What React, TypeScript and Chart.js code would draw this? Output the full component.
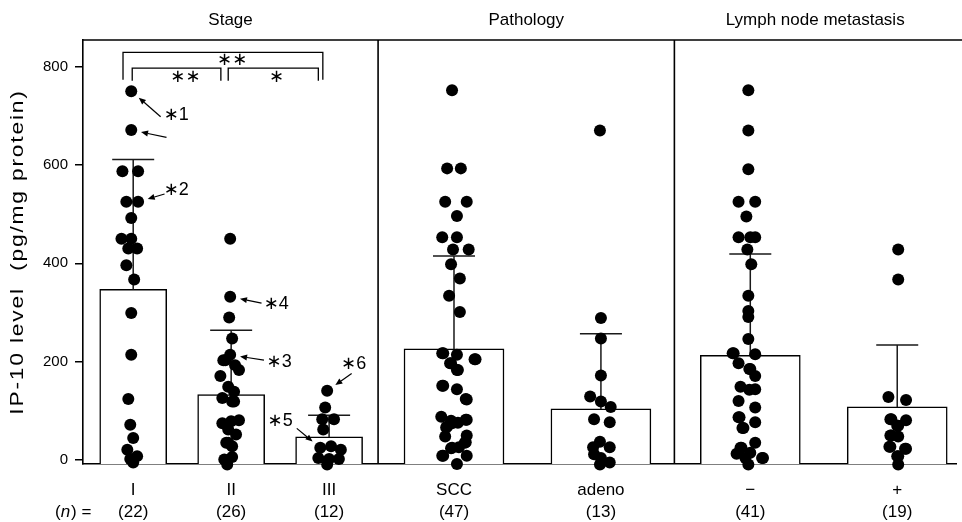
import React, { useEffect, useRef } from "react";
import { Chart, registerables } from "chart.js";

Chart.register(...registerables);

// ---------- data ----------
const categories = ["I", "II", "III", "SCC", "adeno", "\u2212", "+"];
const counts = ["(22)", "(26)", "(12)", "(47)", "(13)", "(41)", "(19)"];
const categoryX = [10, 20, 30, 42.75, 57.75, 73, 88];
const panelTitles = ["Stage", "Pathology", "Lymph node metastasis"];
const panelEdges = [4.875, 35, 65.25, 94];
const means = [347, 133, 47, 226, 104, 213, 108];
const sds = [264, 131, 44, 189, 153, 206, 126];
const yTicks = [0, 200, 400, 600, 800];
const Y_MIN = -8;
const Y_MAX = 854;

const stageIValues = [750, 671, 587, 587, 525, 525, 492, 450, 450, 430, 430, 396, 367, 299, 214, 124, 72, 45, 21, 8, 2, -5];
const stageIJitter = [-0.2, -0.2, -1.1, 0.5, -0.7, 0.5, -0.2, -1.2, -0.2, -0.5, 0.4, -0.7, 0.1, -0.2, -0.2, -0.5, -0.3, 0, -0.6, 0.4, -0.3, 0];

const stageIIValues = [450, 332, 290, 247, 214, 203, 193, 183, 171, 149, 139, 126, 119, 81, 79, 75, 62, 52, 35, 28, 6, 1, -9, 203, 119, 35];
const stageIIJitter = [-0.1, -0.1, -0.2, 0.1, -0.1, -0.8, 0.4, 0.8, -1.1, -0.3, 0.3, -0.9, 0.1, 0.8, 0, -0.9, -0.3, 0.5, -0.5, 0.1, 0.1, -0.7, -0.4, -0.6, 0.3, -0.3];

const stageIIIValues = [141, 107, 83, 83, 62, 25, 28, 21, 4, 2, 2, -9];
const stageIIIJitter = [-0.2, -0.4, -0.7, 0.5, -0.6, -0.9, 0.2, 1.2, -1.1, 0, 1.0, -0.2];

const sccValues = [752, 593, 593, 525, 525, 496, 453, 453, 428, 428, 398, 369, 334, 301, 217, 214, 205, 197, 183, 151, 144, 123, 88, 80, 82, 76, 66, 48, 50, 36, 24, 26, 9, 9, -8,
  217, 205, 197, 183, 151, 124, 82, 75, 68, 35, 25, 9];
const sccJitter = [-0.2, -0.7, 0.7, -0.9, 1.3, 0.3, -1.2, 0.3, -0.1, 1.5, -0.3, 0.6, -0.5, 0.6, -1.2, 0.3, 2.2, -0.4, 0.3, -1.2, 0.3, 1.3, -1.3, -0.3, 1.3, 0.4, -0.8, -0.9, 1.3, 1.2, -0.3, 0.5, -1.2, 1.3, 0.3,
  -1.1, 2.1, -0.3, 0.4, -1.1, 1.2, 1.2, -0.2, -0.7, 1.1, -0.2, -1.1];

const adenoValues = [670, 289, 247, 172, 129, 119, 108, 83, 77, 37, 26, 26, 12, 4, -5, -9];
const adenoJitter = [-0.1, 0, 0, 0, -1.1, 0, 1.0, -0.7, 0.9, -0.1, -0.8, 0.9, -0.7, 0, 0.9, -0.1];

const lnNegValues = [752, 670, 591, 525, 525, 495, 453, 453, 453, 428, 398, 334, 303, 291, 246, 217, 215, 197, 185, 171, 149, 144, 143, 120, 107, 87, 77, 65, 35, 25, 13, 15, 4, 4, -9,
  217, 185, 87, 65, 25, 4];
const lnNegJitter = [-0.2, -0.2, -0.2, -1.2, 0.5, -0.4, -1.2, 0, 0.5, -0.3, 0.1, -0.2, -0.2, -0.2, -0.2, -1.8, 0.5, -1.2, -0.1, 0.5, -1.0, 0.5, -0.1, -1.2, 0.5, -1.2, 0.5, -0.8, 0.5, -1.0, -1.4, 0, 1.3, -0.5, -0.2,
  -1.7, 0, -1.1, -0.7, -0.9, 1.2];

const lnPosValues = [428, 367, 128, 122, 83, 81, 70, 50, 48, 27, 23, 8, -9, 83, 50, 27, 8, 70, 23];
const lnPosJitter = [0.1, 0.1, -0.9, 0.9, -0.7, 0.9, 0.1, -0.7, 0.1, -0.8, 0.9, 0.1, 0.1, -0.6, -0.6, -0.7, 0, 0, 0.8];

const groupValues = [stageIValues, stageIIValues, stageIIIValues, sccValues, adenoValues, lnNegValues, lnPosValues];
const groupJitter = [stageIJitter, stageIIJitter, stageIIIJitter, sccJitter, adenoJitter, lnNegJitter, lnPosJitter];

// significance brackets (x in axis units, y in data units)
const brackets = [
  { x1: 8.96, x2: 29.36, top: 829, leg: 773, label: "\u2217\u2217", lx: 20.1, ly: 812 },
  { x1: 9.9, x2: 18.95, top: 797, leg: 771, label: "\u2217\u2217", lx: 15.33, ly: 779 },
  { x1: 19.7, x2: 28.9, top: 797, leg: 771, label: "\u2217", lx: 24.63, ly: 779 },
];

// annotated points
const annotations = [
  { text: "\u22171", tx: 14.4, ty: 701, arrows: [{ fx: 12.8, fy: 698, group: 0, index: 0 }, { fx: 13.4, fy: 656, group: 0, index: 1 }] },
  { text: "\u22172", tx: 14.4, ty: 549, arrows: [{ fx: 13.2, fy: 541, group: 0, index: 5 }] },
  { text: "\u22174", tx: 24.6, ty: 317, arrows: [{ fx: 23.1, fy: 319, group: 1, index: 1 }] },
  { text: "\u22173", tx: 24.9, ty: 199, arrows: [{ fx: 23.35, fy: 203, group: 1, index: 4 }] },
  { text: "\u22176", tx: 32.5, ty: 195, arrows: [{ fx: 32.3, fy: 176, group: 2, index: 0 }] },
  { text: "\u22175", tx: 25.0, ty: 79, arrows: [{ fx: 26.7, fy: 64.5, group: 2, index: 5 }] },
];

const FONT = '"Liberation Sans", Arial, "DejaVu Sans", sans-serif';

function pointOf(g: number, i: number) {
  return { x: categoryX[g] + groupJitter[g][i], y: groupValues[g][i] };
}

const decorPlugin = {
  id: "decor",
  afterDatasetDraw(chart: any, args: any) {
    const ds = chart.data.datasets[args.index];
    if (!ds.errorValues) return;
    const ctx = chart.ctx;
    const ys = chart.scales.y;
    ctx.save();
    ctx.strokeStyle = "#1a1a1a";
    ctx.lineWidth = 1.5;
    args.meta.data.forEach((el: any, i: number) => {
      const top = ys.getPixelForValue(ds.data[i].y + ds.errorValues[i]);
      ctx.beginPath();
      ctx.moveTo(el.x, el.y);
      ctx.lineTo(el.x, top);
      ctx.moveTo(el.x - 21, top);
      ctx.lineTo(el.x + 21, top);
      ctx.stroke();
    });
    ctx.restore();
  },
  afterDraw(chart: any) {
    const ctx = chart.ctx;
    const xs = chart.scales.x;
    const ys = chart.scales.y;
    const area = chart.chartArea;
    ctx.save();
    ctx.strokeStyle = "#000";
    ctx.fillStyle = "#000";
    ctx.lineWidth = 1.6;
    // top frame + panel separators
    ctx.beginPath();
    ctx.moveTo(area.left, area.top);
    ctx.lineTo(chart.width, area.top);
    for (let k = 1; k < panelEdges.length - 1; k++) {
      const px = xs.getPixelForValue(panelEdges[k]);
      ctx.moveTo(px, area.top);
      ctx.lineTo(px, area.bottom);
    }
    ctx.stroke();

    // panel titles
    ctx.font = `17px ${FONT}`;
    ctx.textAlign = "center";
    ctx.textBaseline = "middle";
    panelTitles.forEach((t, k) => {
      const a = xs.getPixelForValue(Math.max(panelEdges[k], xs.min));
      const b = Math.min(xs.getPixelForValue(panelEdges[k + 1]), chart.width);
      ctx.fillText(t, (a + b) / 2, area.top - 20);
    });

    // category labels and counts
    categories.forEach((c, k) => {
      const px = xs.getPixelForValue(categoryX[k]);
      ctx.font = `17px ${FONT}`;
      ctx.fillText(c, px, area.bottom + 26);
      ctx.fillText(counts[k], px, area.bottom + 48);
    });
    // (n) =
    ctx.textAlign = "left";
    let cx = 55;
    const rowY = area.bottom + 48;
    ctx.font = `17px ${FONT}`;
    ctx.fillText("(", cx, rowY);
    cx += ctx.measureText("(").width;
    ctx.font = `italic 17px ${FONT}`;
    ctx.fillText("n", cx, rowY);
    cx += ctx.measureText("n").width + 1;
    ctx.font = `17px ${FONT}`;
    ctx.fillText(") =", cx, rowY);

    // y title
    ctx.save();
    ctx.translate(18, (area.top + area.bottom) / 2);
    ctx.rotate(-Math.PI / 2);
    ctx.scale(1.2, 1);
    ctx.textAlign = "center";
    ctx.font = `19px ${FONT}`;
    (ctx as any).letterSpacing = "1.5px";
    ctx.fillText("IP-10 level  (pg/mg protein)", 0, 0);
    (ctx as any).letterSpacing = "0px";
    ctx.restore();

    // brackets
    ctx.lineWidth = 1.3;
    ctx.textAlign = "center";
    brackets.forEach((b) => {
      const x1 = xs.getPixelForValue(b.x1);
      const x2 = xs.getPixelForValue(b.x2);
      const yt = ys.getPixelForValue(b.top);
      const yl = ys.getPixelForValue(b.leg);
      ctx.beginPath();
      ctx.moveTo(x1, yl);
      ctx.lineTo(x1, yt);
      ctx.lineTo(x2, yt);
      ctx.lineTo(x2, yl);
      ctx.stroke();
      ctx.font = `18px "DejaVu Sans", sans-serif`;
      ctx.fillText(b.label, xs.getPixelForValue(b.lx), ys.getPixelForValue(b.ly));
    });

    // annotations with arrows
    annotations.forEach((a) => {
      ctx.font = `18px ${FONT}`;
      ctx.textAlign = "center";
      ctx.fillText(a.text, xs.getPixelForValue(a.tx), ys.getPixelForValue(a.ty));
      a.arrows.forEach((ar) => {
        const p = pointOf(ar.group, ar.index);
        const px = xs.getPixelForValue(p.x);
        const py = ys.getPixelForValue(p.y);
        const fx = xs.getPixelForValue(ar.fx);
        const fy = ys.getPixelForValue(ar.fy);
        const dx = px - fx;
        const dy = py - fy;
        const len = Math.hypot(dx, dy);
        const ux = dx / len;
        const uy = dy / len;
        const tipX = px - ux * 10;
        const tipY = py - uy * 10;
        const headL = 7;
        const headW = 3;
        const bx = tipX - ux * headL;
        const by = tipY - uy * headL;
        ctx.lineWidth = 1.2;
        ctx.beginPath();
        ctx.moveTo(fx, fy);
        ctx.lineTo(bx, by);
        ctx.stroke();
        ctx.beginPath();
        ctx.moveTo(tipX, tipY);
        ctx.lineTo(bx - uy * headW, by + ux * headW);
        ctx.lineTo(bx + uy * headW, by - ux * headW);
        ctx.closePath();
        ctx.fill();
      });
    });
    ctx.restore();
  },
};

export default function App() {
  const ref = useRef<HTMLCanvasElement | null>(null);
  useEffect(() => {
    document.body.style.margin = "0";
    if (!ref.current) return;
    const stageBars = [0, 1, 2].map((k) => ({ x: categoryX[k], y: means[k] }));
    const otherBars = [3, 4, 5, 6].map((k) => ({ x: categoryX[k], y: means[k] }));
    const points = groupValues.flatMap((vals, g) => vals.map((_, i) => pointOf(g, i)));
    const barStyle = {
      type: "bar" as const,
      grouped: false,
      base: Y_MIN,
      backgroundColor: "#ffffff",
      borderColor: "#000000",
      borderWidth: 1.5,
      borderSkipped: "bottom" as const,
      order: 3,
    };
    const chart = new Chart(ref.current, {
      type: "bar",
      data: {
        datasets: [
          { ...barStyle, data: stageBars, barThickness: 67, errorValues: [sds[0], sds[1], sds[2]] } as any,
          { ...barStyle, data: otherBars, barThickness: 100, errorValues: [sds[3], sds[4], sds[5], sds[6]] } as any,
          {
            type: "line",
            data: points,
            showLine: false,
            pointRadius: 6,
            pointHoverRadius: 6,
            pointBackgroundColor: "#000",
            pointBorderWidth: 0,
            borderWidth: 0,
            clip: false,
            order: 1,
          } as any,
        ],
      },
      options: {
        responsive: false,
        animation: false,
        events: [],
        layout: { padding: { top: 40, right: 1, left: 0, bottom: 0 } },
        plugins: { legend: { display: false }, tooltip: { enabled: false }, title: { display: false } },
        scales: {
          x: {
            type: "linear",
            min: panelEdges[0],
            max: panelEdges[panelEdges.length - 1],
            offset: false,
            ticks: { display: false },
            grid: { display: false, drawTicks: false },
            border: { display: true, color: "#000", width: 1.6 },
            afterFit: (s: any) => {
              s.height = 58;
            },
          },
          y: {
            type: "linear",
            min: Y_MIN,
            max: Y_MAX,
            afterBuildTicks: (s: any) => {
              s.ticks = yTicks.map((v) => ({ value: v }));
            },
            ticks: { color: "#000", font: { family: FONT, size: 15 }, padding: 7 },
            grid: { drawOnChartArea: false, drawTicks: true, tickLength: 8, color: "#000", lineWidth: 1.5 },
            border: { display: true, color: "#000", width: 1.6 },
            afterFit: (s: any) => {
              s.width = 83;
            },
          },
        },
      },
      plugins: [decorPlugin as any],
    });
    return () => chart.destroy();
  }, []);
  return (
    <div style={{ width: 962, height: 522 }}>
      <canvas ref={ref} width={962} height={522} />
    </div>
  );
}
